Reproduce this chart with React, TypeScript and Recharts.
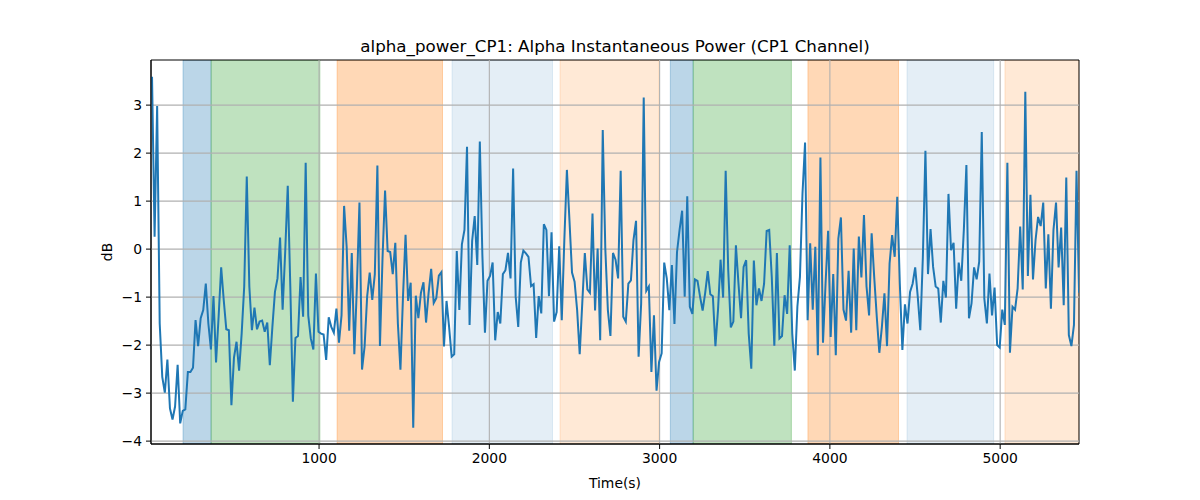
import React from "react";
import {
  LineChart,
  Line,
  XAxis,
  YAxis,
  ReferenceArea,
  ReferenceLine,
  Label,
} from "recharts";

// sampling of the trace (s)
const T0 = 19;
const DT = 15.04;

// alpha power readings in dB, read left to right in chunks
const power1 = [
  3.59, 0.26, 2.98, -1.55, -2.66, -2.99, -2.3, -3.32, -3.55, -3.28, -2.41, -3.63,
  -3.37, -3.34, -2.56, -2.56, -2.47, -1.48, -2.02, -1.44, -1.27, -0.72, -1.55,
  -2.09, -0.98, -2.36, -1.41, -0.38, -1.06, -1.67, -1.69, -3.25, -2.26, -1.93,
  -2.53, -1.76, -0.78, 1.51, -0.78, -1.69, -1.22, -1.67, -1.51, -1.49, -1.72, -1.53,
];
const power2 = [
  -2.42, -1.62, -0.89, -0.61, 0.24, -1.26, -0.06, 1.32, -0.78, -3.18, -1.85, -1.81,
  -0.58, -1.41, 1.8, -1.38, -1.86, -2.09, -0.51, -1.72, -1.76, -1.78, -2.31, -1.42,
  -1.62, -1.74, -1.24, -1.95, -1.38, 0.9, 0.05, -1.7, -0.08, -2.19, -0.78, 0.97,
  -2.51, -2.03, -0.99, -0.49, -1.06, -0.52, 1.74, -2.02, -0.2,
];
const power3 = [
  1.22, -0.04, -0.06, -0.52, 0.13, -1.55, -2.51, -0.99, 0.3, -1.08, -0.7, -3.72,
  -0.97, -1.44, -0.91, -0.69, -1.53, -0.91, -0.41, -1.12, -1.02, -0.55, -0.48,
  -2.03, -1.08, -1.62, -2.24, -2.19, -0.04, -1.27, 0.1, 0.4, 2.13, -1.58, 0.17,
  0.69, -0.33, 2.24, -0.13, -1.74, -0.66, -0.56, -0.28, -1.9, -1.31,
];
const power4 = [
  -1.55, -0.52, -0.44, -0.08, -0.61, 1.68, -0.99, -1.62, -0.28, -0.03, -0.09, -0.16,
  -0.77, -0.73, -1.85, -0.98, -1.34, 0.52, 0.4, -0.98, 0.35, -1.51, -1.31, 0.06,
  -1.48, 0.19, 1.65, 0.6, -0.49, -0.68, -1.27, -2.19, -1.13, -0.08, -0.84, -0.91,
  0.74, -1.28, 0.01, -1.9, 2.48, 0.01, -1.27, -1.81, -0.08,
];
const power5 = [
  -0.22, -0.61, 1.63, -1.41, -1.51, -0.72, -0.65, 0.19, 0.59, -2.24, -1.13, 3.16,
  -0.87, -0.78, -2.56, -1.38, -2.95, -2.35, -2.17, -0.28, -0.61, -1.27, -0.33,
  -1.56, -0.06, 0.4, 0.8, -0.99, 1.1, -1.2, -1.35, -0.63, -0.66, -0.99, -1.28,
  -0.91, -0.46, -0.94, -0.98, -2.02, -1.27, -0.22, -1.01, 1.63, -0.44, -1.63,
];
const power6 = [
  -1.51, 0.08, -0.72, -1.44, -0.37, -0.23, -1.76, -2.49, -0.24, -1.17, -0.82, -1.08,
  -0.72, 0.38, 0.4, -0.58, -2.01, -0.08, -1.86, -1.81, -0.96, -1.35, 0.08, -1.76,
  -2.53, -1.2, -0.58, 1.16, 2.22, -1.48, 0.12, -1.26, 0.05, -2.21, 1.91, -1.95,
  -0.72, 0.38, -1.83, -0.52, -2.21, 0.22, 0.66, -1.26, -1.49,
];
const power7 = [
  -0.45, -1.74, 0.01, -1.69, 0.26, -0.59, 0.71, -0.78, -1.38, 0.33, -0.58, -1.41,
  -2.16, -1.62, -0.92, -2.02, -0.3, 0.29, -0.16, 1.09, -0.72, -2.1, -1.15, -1.55,
  -0.89, -0.72, -0.38, -0.99, -1.69, -0.16, 2.05, -0.52, 0.42, -0.37, -0.78, -0.82,
  -1.53, -0.66, -1.01, 1.15, -0.02, 0.13, -1.24, -0.28, -0.66,
];
const power8 = [
  0.4, 1.75, -1.44, -1.13, -0.38, -0.63, -0.26, 2.44, -1.03, -1.55, -0.51, -1.38,
  -0.8, -2.0, -2.05, -1.26, -1.58, 1.8, -2.16, -1.2, -1.26, -0.82, 0.47, -0.84,
  3.28, -0.56, 1.13, -0.63, 0.19, 0.67, 0.48, 0.97, -0.82, 0.31, -1.24, 0.4, 0.97,
  -0.38, 0.45, -1.17, 1.49, -1.79, -2.02, -1.58, 1.63, -0.91,
];

// shaded task blocks
const spanStart = [201, 366, 1106, 1781, 2415, 3063, 3197, 3871, 4453, 5028];
const spanEnd = [366, 1005, 1725, 2371, 2996, 3197, 3774, 4403, 4962, 5463];
const spanColor = [
  "#1f77b4", "#2ca02c", "#ff7f0e", "#1f77b4", "#ff7f0e",
  "#1f77b4", "#2ca02c", "#ff7f0e", "#1f77b4", "#ff7f0e",
];
const spanAlpha = [0.3, 0.3, 0.3, 0.12, 0.17, 0.3, 0.3, 0.3, 0.12, 0.17];

const xTicks = [1000, 2000, 3000, 4000, 5000];
const yTicks = [-4, -3, -2, -1, 0, 1, 2, 3];

const X_MIN = 13;
const X_MAX = 5463;
const Y_MIN = -4.06;
const Y_MAX = 3.94;

const values = [
  ...power1, ...power2, ...power3, ...power4,
  ...power5, ...power6, ...power7, ...power8,
];
const data = values.map((v, i) => ({ t: T0 + i * DT, power: v }));

const FONT = "DejaVu Sans, sans-serif";
const fmt = (v: number) => String(v).replace("-", "\u2212");

export default function App() {
  return (
    <div
      style={{
        position: "absolute",
        left: 0,
        top: 0,
        width: 1200,
        height: 500,
        background: "#fff",
        fontFamily: FONT,
      }}
    >
      <div
        style={{
          position: "absolute",
          left: 151,
          width: 928,
          top: 36,
          lineHeight: "20px",
          fontSize: 16.7,
          textAlign: "center",
          color: "#000",
        }}
      >
        alpha_power_CP1: Alpha Instantaneous Power (CP1 Channel)
      </div>
      <LineChart
        width={1200}
        height={500}
        data={data}
        margin={{ top: 60, right: 121, bottom: 0, left: 0 }}
      >
        {spanStart.map((s, i) => (
          <ReferenceArea
            key={`span-${i}`}
            x1={s}
            x2={spanEnd[i]}
            y1={Y_MIN}
            y2={Y_MAX}
            fill={spanColor[i]}
            fillOpacity={spanAlpha[i]}
            stroke={spanColor[i]}
            strokeOpacity={spanAlpha[i]}
            strokeWidth={1}
            ifOverflow="hidden"
          />
        ))}
        {/* grid drawn over the spans, as matplotlib does */}
        {xTicks.map((x) => (
          <ReferenceLine key={`gx-${x}`} x={x} stroke="#b0b0b0" strokeWidth={1.1} />
        ))}
        {yTicks.map((y) => (
          <ReferenceLine key={`gy-${y}`} y={y} stroke="#b0b0b0" strokeWidth={1.1} />
        ))}
        <XAxis
          dataKey="t"
          type="number"
          domain={[X_MIN, X_MAX]}
          allowDataOverflow
          ticks={xTicks}
          height={56}
          tickSize={5}
          tickMargin={4}
          stroke="#000"
          tick={{ fill: "#000", fontSize: 13.9, fontFamily: FONT }}
        >
          <Label
            value="Time(s)"
            position="insideBottom"
            offset={12}
            style={{ fill: "#000", fontSize: 13.9, fontFamily: FONT }}
          />
        </XAxis>
        <YAxis
          type="number"
          domain={[Y_MIN, Y_MAX]}
          allowDataOverflow
          ticks={yTicks}
          width={151}
          tickSize={5}
          tickMargin={4}
          stroke="#000"
          tickFormatter={fmt}
          tick={{ fill: "#000", fontSize: 13.9, fontFamily: FONT }}
        >
          <Label
            value="dB"
            angle={-90}
            position="insideLeft"
            offset={107}
            style={{ fill: "#000", fontSize: 13.9, fontFamily: FONT, textAnchor: "middle" }}
          />
        </YAxis>
        <Line
          type="linear"
          dataKey="power"
          stroke="#1f77b4"
          strokeWidth={2}
          dot={false}
          isAnimationActive={false}
        />
        <ReferenceArea
          x1={X_MIN}
          x2={X_MAX}
          y1={Y_MIN}
          y2={Y_MAX}
          fill="none"
          stroke="#000"
          strokeWidth={1}
        />
      </LineChart>
    </div>
  );
}
